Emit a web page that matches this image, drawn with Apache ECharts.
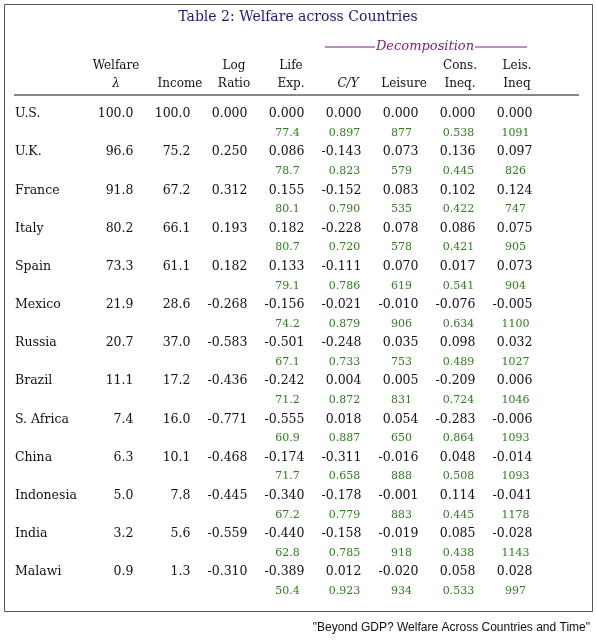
<!DOCTYPE html>
<html><head><meta charset="utf-8">
<script src="https://cdn.jsdelivr.net/npm/echarts@6/dist/echarts.min.js"></script>
<style>html,body{margin:0;padding:0;background:#fff}#c{width:597px;height:642px}</style>
</head><body><div id="c"></div>
<script>
const countries = ["U.S.","U.K.","France","Italy","Spain","Mexico","Russia","Brazil","S. Africa","China","Indonesia","India","Malawi"];
const welfare  = ["100.0","96.6","91.8","80.2","73.3","21.9","20.7","11.1","7.4","6.3","5.0","3.2","0.9"];
const income   = ["100.0","75.2","67.2","66.1","61.1","28.6","37.0","17.2","16.0","10.1","7.8","5.6","1.3"];
const logRatio = ["0.000","0.250","0.312","0.193","0.182","-0.268","-0.583","-0.436","-0.771","-0.468","-0.445","-0.559","-0.310"];
const lifeExp  = ["0.000","0.086","0.155","0.182","0.133","-0.156","-0.501","-0.242","-0.555","-0.174","-0.340","-0.440","-0.389"];
const cy       = ["0.000","-0.143","-0.152","-0.228","-0.111","-0.021","-0.248","0.004","0.018","-0.311","-0.178","-0.158","0.012"];
const leisure  = ["0.000","0.073","0.083","0.078","0.070","-0.010","0.035","0.005","0.054","-0.016","-0.001","-0.019","-0.020"];
const consIneq = ["0.000","0.136","0.102","0.086","0.017","-0.076","0.098","-0.209","-0.283","0.048","0.114","0.085","0.058"];
const leisIneq = ["0.000","0.097","0.124","0.075","0.073","-0.005","0.032","0.006","-0.006","-0.014","-0.041","-0.028","0.028"];
const lifeLvl  = ["77.4","78.7","80.1","80.7","79.1","74.2","67.1","71.2","60.9","71.7","67.2","62.8","50.4"];
const cyLvl    = ["0.897","0.823","0.790","0.720","0.786","0.879","0.733","0.872","0.887","0.658","0.779","0.785","0.923"];
const leisLvl  = ["877","579","535","578","619","906","753","831","650","888","883","918","934"];
const consLvl  = ["0.538","0.445","0.422","0.421","0.541","0.634","0.489","0.724","0.864","0.508","0.445","0.438","0.533"];
const leisIneqLvl = ["1091","826","747","905","904","1100","1027","1046","1093","1093","1178","1143","997"];
const columns = ["Welfare","Income","Log Ratio","Life Exp.","C/Y","Leisure","Cons. Ineq.","Leis. Ineq"];

const mainCols = [welfare,income,logRatio,lifeExp,cy,leisure,consIneq,leisIneq];
const lvlCols = [[3,lifeLvl],[4,cyLvl],[5,leisLvl],[6,consLvl],[7,leisIneqLvl]];
const data = [];
countries.forEach((c,r)=>{
  mainCols.forEach((col,ci)=>data.push([ci, r*2, col[r], 0]));
  lvlCols.forEach(([ci,col])=>data.push([ci, r*2+1, col[r], 1]));
});
const rows = [];
countries.forEach(c=>{rows.push(c); rows.push('');});

const serif = "DejaVu Serif";
const chart = echarts.init(document.getElementById('c'));
chart.setOption({
  animation:false,
  grid:{left:88,width:456,top:104.5,height:496},
  xAxis:{type:'category',data:columns,show:false},
  yAxis:{type:'category',data:rows,inverse:true,axisLine:{show:false},axisTick:{show:false},
    axisLabel:{align:'left',margin:73,fontFamily:serif,fontSize:12.5,color:'#111',interval:0}},
  series:[{type:'custom',data:data,renderItem:(params,api)=>{
    const p = api.coord([api.value(0), api.value(1)]);
    const lvl = api.value(3);
    const txt = data[params.dataIndex][2];
    return {type:'text',x: lvl? p[0] : p[0]+17, y:p[1], style:{text:txt,
      textAlign: lvl?'center':'right', textVerticalAlign:'middle',
      fontFamily:serif, fontSize: lvl?11:12.5, fill: lvl?'#2e7d1e':'#111'}};
  }}],
  graphic:[
    {type:'rect',shape:{x:4.5,y:4.5,width:588,height:607},style:{fill:'none',stroke:'#555',lineWidth:1}},
    {type:'text',x:298,y:17,style:{text:'Table 2: Welfare across Countries',textAlign:'center',textVerticalAlign:'middle',fontFamily:serif,fontSize:14,fill:'#1c1c72'}},
    {type:'text',x:425,y:47,style:{text:'Decomposition',textAlign:'center',textVerticalAlign:'middle',fontFamily:serif,fontStyle:'italic',fontSize:13,fill:'#7a1e7a'}},
    {type:'line',shape:{x1:325,y1:47,x2:375,y2:47},style:{stroke:'#7a1e7a',lineWidth:1}},
    {type:'line',shape:{x1:475,y1:47,x2:527,y2:47},style:{stroke:'#7a1e7a',lineWidth:1}},
    {type:'line',shape:{x1:14,y1:95,x2:579,y2:95},style:{stroke:'#111',lineWidth:1}},
    ...[[116,'Welfare','λ'],[180,'','Income'],[234,'Log','Ratio'],[291,'Life','Exp.'],[348,'','C/Y'],[404,'','Leisure'],[460,'Cons.','Ineq.'],[517,'Leis.','Ineq']].flatMap(([x,a,b])=>[
      {type:'text',x:x,y:66,style:{text:a,textAlign:'center',textVerticalAlign:'middle',fontFamily:serif,fontSize:12,fill:'#111'}},
      {type:'text',x:x,y:84,style:{text:b,textAlign:'center',textVerticalAlign:'middle',fontFamily:serif,fontSize:12,fill:'#111',fontStyle:(b==='C/Y'||b==='λ')?'italic':'normal'}}]),
    {type:'text',x:590,y:628,style:{text:'"Beyond GDP? Welfare Across Countries and Time"',textAlign:'right',textVerticalAlign:'middle',fontFamily:'Liberation Sans',fontSize:12,fill:'#111'}}
  ]
});
</script></body></html>
